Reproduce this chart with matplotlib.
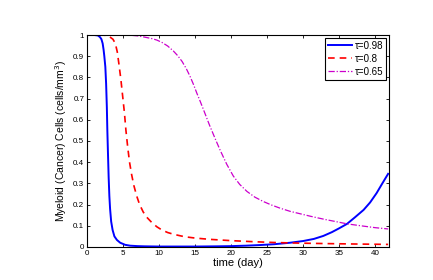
import matplotlib
matplotlib.use('Agg')
import matplotlib.pyplot as plt

# values
t_098 = [0, 1.0, 1.5, 1.8, 2.0, 2.17, 2.3, 2.4, 2.54, 2.65, 2.75, 2.82, 2.9, 3.0, 3.1, 3.2, 3.35,
         3.55, 3.8, 4.15, 4.6, 5.3, 6.0, 7, 8, 10, 12, 15, 18, 20, 22, 24, 26, 28.2, 30, 31.5, 32.8,
         34, 35, 36.1, 37.2, 38.4, 39.3, 40.2, 41, 41.8]
y_098 = [1, 1, 0.998, 0.99, 0.98, 0.96, 0.93, 0.9, 0.85, 0.77, 0.66, 0.55, 0.45, 0.33, 0.24, 0.18,
         0.12, 0.08, 0.05, 0.033, 0.02, 0.01, 0.006, 0.004, 0.003, 0.002, 0.002, 0.002, 0.003, 0.004,
         0.006, 0.009, 0.013, 0.02, 0.028, 0.038, 0.052, 0.07, 0.088, 0.109, 0.14, 0.175, 0.21,
         0.254, 0.3, 0.345]

t_08 = [0, 2, 2.8, 3.2, 3.6, 3.93, 4.2, 4.4, 4.7, 4.95, 5.2, 5.4, 5.65, 5.9, 6.2, 6.5, 6.9, 7.3,
        7.8, 8.3, 9, 9.7, 10.4, 11.2, 12, 12.9, 13.6, 15, 17, 19.9, 23, 26, 29.6, 33, 37, 41.8]
y_08 = [1, 1, 0.998, 0.99, 0.98, 0.96, 0.92, 0.87, 0.79, 0.71, 0.63, 0.55, 0.47, 0.4, 0.34, 0.29,
        0.24, 0.2, 0.165, 0.14, 0.115, 0.095, 0.08, 0.068, 0.06, 0.053, 0.048, 0.042, 0.036, 0.03,
        0.025, 0.021, 0.018, 0.016, 0.014, 0.012]

t_065 = [0, 4, 6, 7, 8, 9, 9.7, 10.4, 11.2, 12, 12.6, 13.2, 13.8, 14.3, 14.8, 15.25, 15.7, 16.2,
         17, 17.8, 18.5, 19.4, 20.3, 21.2, 22.2, 23.3, 24.5, 25.6, 26.8, 28.2, 29.3, 31, 33, 34.5,
         36.1, 38, 40, 41.8]
y_065 = [1, 1, 0.999, 0.996, 0.99, 0.983, 0.976, 0.965, 0.948, 0.924, 0.902, 0.875, 0.84, 0.805,
         0.765, 0.725, 0.688, 0.645, 0.575, 0.51, 0.455, 0.39, 0.335, 0.295, 0.262, 0.235, 0.214,
         0.198, 0.183, 0.168, 0.159, 0.145, 0.13, 0.12, 0.109, 0.1, 0.091, 0.085]

labels = [u'\u03c4=0.98', u'\u03c4=0.8', u'\u03c4=0.65']
xticks = [0, 5, 10, 15, 20, 25, 30, 35, 40]
yticks = [0, 0.1, 0.2, 0.3, 0.4, 0.5, 0.6, 0.7, 0.8, 0.9, 1]

plt.rcParams['font.family'] = ['Liberation Sans', 'DejaVu Sans']

fig = plt.figure(figsize=(4.33, 2.80), dpi=100)
ax = fig.add_axes([0.201, 0.118, 0.697, 0.757])

ax.plot(t_098, y_098, color='#0000ff', lw=1.4, ls='-', label=labels[0])
ax.plot(t_08, y_08, color='#ff0000', lw=1.2, ls=(0, (4, 3)), label=labels[1])
ax.plot(t_065, y_065, color='#cc00cc', lw=0.9, ls=(0, (5, 1.5, 1, 1.5)), label=labels[2])

ax.set_xlim(0, 41.9)
ax.set_ylim(0, 1)
ax.set_xticks(xticks)
ax.set_yticks(yticks)
ax.set_xticklabels([str(v) for v in xticks])
ax.set_yticklabels(['0'] + ['%.1f' % v for v in yticks[1:-1]] + ['1'])
ax.tick_params(direction='in', top=True, right=True, labelsize=5.8, length=2.5, width=0.6, pad=2)
for s in ax.spines.values():
    s.set_linewidth(0.8)

ax.set_xlabel('time (day)', fontsize=8, labelpad=1)
ax.set_ylabel('Myeloid (Cancer) Cells (cells/mm$^3$)', fontsize=7.5, labelpad=3)

leg = ax.legend(loc='upper right', fontsize=7, fancybox=False, framealpha=1,
                edgecolor='black', borderaxespad=0.3, handlelength=2.4, labelspacing=0.3,
                borderpad=0.3, handletextpad=0.3)
leg.get_frame().set_linewidth(0.8)

fig.savefig('out.png', dpi=100)
